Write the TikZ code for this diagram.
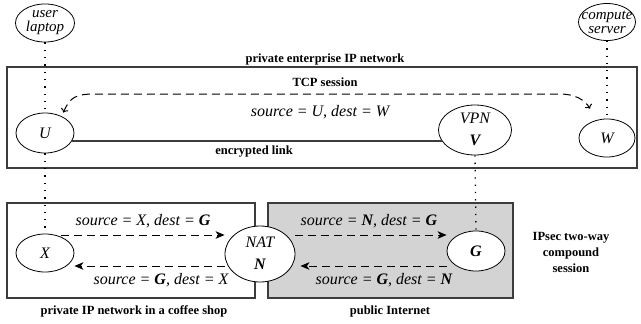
\documentclass[tikz,border=0pt]{standalone}
\usepackage{fontspec}
\setmainfont{Liberation Serif}
\usetikzlibrary{arrows.meta,shapes.geometric}
\definecolor{edge}{RGB}{60,60,60}
\definecolor{inet}{RGB}{211,211,211}

\begin{document}
\begin{tikzpicture}[x=1pt,y=-1pt,
  host/.style={ellipse, draw=black, line width=0.8pt, fill=white, inner sep=0pt},
  hosttext/.style={inner sep=0pt, align=center, font=\fontsize{16}{14.5}\selectfont\itshape},
  devtext/.style={inner sep=0pt, align=center, font=\fontsize{15}{14}\selectfont\itshape},
  gatetext/.style={inner sep=0pt, align=center, font=\fontsize{16}{22}\selectfont\itshape},
  region/.style={draw=edge, line width=1.2pt},
  boldlabel/.style={inner sep=0pt, align=center, font=\fontsize{12.5}{16}\selectfont\bfseries},
  flowlabel/.style={inner sep=0pt, font=\fontsize{16}{18}\selectfont\itshape},
  flow/.style={draw=black, line width=1pt, dash pattern=on 8pt off 5pt,
    -{Stealth[length=9pt,width=7.5pt,inset=2.5pt]}},
  tether/.style={draw=black, line width=1.3pt, dash pattern=on 1.3pt off 6pt},
  link/.style={draw=edge, line width=1.5pt},
]
\useasboundingbox (0,0) rectangle (641,324);

% network regions
\draw[region] (7,67) rectangle (637,168);
\draw[region] (7,203) rectangle (255,298);
\draw[region, fill=inet] (268,203) rectangle (513,298);

% hosts
\node[host, minimum width=59pt, minimum height=38pt] (laptop) at (45,23) {};
\node[devtext] (laptop-t) at (laptop) {user\\laptop};
\node[host, minimum width=57pt, minimum height=37pt] (server) at (607,22) {};
\node[devtext] (server-t) at (server) {compute\\server};

\node[host, minimum width=58pt, minimum height=40pt] (U) at (45,133) {};
\node[hosttext] (U-t) at (U) {U};
\node[host, minimum width=56pt, minimum height=38pt] (W) at (607,138) {};
\node[hosttext] (W-t) at (W) {W};
\node[host, minimum width=73pt, minimum height=50pt] (vpn) at (475,130) {};
\node[gatetext] (vpn-t) at ([yshift=1pt]vpn.center) {VPN\\\textbf{V}};

\node[host, minimum width=58pt, minimum height=38pt] (X) at (45,253) {};
\node[hosttext] (X-t) at (X) {X};
\node[host, minimum width=70pt, minimum height=56pt] (NAT) at (260,254) {};
\node[gatetext] (NAT-t) at ([yshift=1pt]NAT.center) {NAT\\\textbf{N}};
\node[host, minimum width=58pt, minimum height=40pt] (G) at (476,251) {};
\node[hosttext] (G-t) at (G) {\textbf{G}};

% device tethers
\draw[tether] (laptop.south) -- (U.north);
\draw[tether] (U.south) -- (X.north);
\draw[tether] (server.south) -- (W.north);
\draw[tether] (vpn.south) -- (G.north);

% encrypted link and TCP session
\draw[link] (U.-17) -- (U.-17 -| vpn.198);
\draw[flow, <->, shorten <=4pt, shorten >=13pt]
  (U.45) .. controls (70,97) and (76,94) .. (95,94) -- (560,94)
  .. controls (575,94) and (585,100) .. (W.120);

% IPsec flows
\coordinate (up) at (0,235);
\coordinate (lo) at (0,266);
\draw[flow] (X.45 |- up) -- (NAT.west |- up);
\draw[flow] (NAT.west |- lo) -- (X.east |- lo);
\draw[flow] (NAT.east |- up) -- (G.west |- up);
\draw[flow, shorten >=5pt] (G.west |- lo) -- (NAT.east |- lo);

% labels
\node[boldlabel] (l-ent) at (325,59) {private enterprise IP network};
\node[boldlabel] (l-tcp) at (325,82) {TCP session};
\node[flowlabel] (l-uw) at (320,112) {source = U, dest = W};
\node[boldlabel] (l-enc) at (254,152) {encrypted link};
\node[flowlabel] (l-xg) at (143,221) {source = X, dest = \textbf{G}};
\node[flowlabel] (l-gx) at (161,280) {source = \textbf{G}, dest = X};
\node[flowlabel] (l-ng) at (369,221) {source = \textbf{N}, dest = \textbf{G}};
\node[flowlabel] (l-gn) at (384,280) {source = \textbf{G}, dest = \textbf{N}};
\node[boldlabel] (l-cafe) at (134,311) {private IP network in a coffee shop};
\node[boldlabel] (l-inet) at (390,311) {public Internet};
\node[boldlabel] (l-ipsec) at (571,252) {IPsec two-way\\compound\\session};
\end{tikzpicture}
\end{document}
